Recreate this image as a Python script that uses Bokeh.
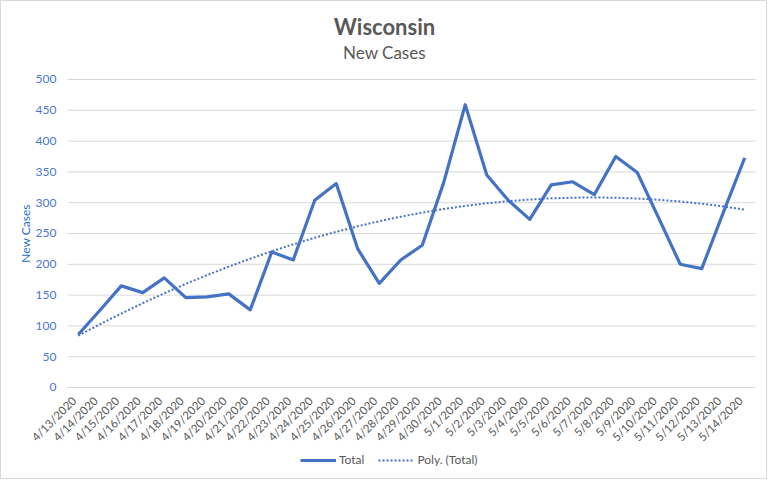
import numpy as np
from bokeh.plotting import figure
from bokeh.models import (ColumnDataSource, Legend, LegendItem, Label, Range1d,
                          FixedTicker)
from bokeh.embed import file_html
from bokeh.resources import INLINE
from math import pi

dates = ["4/13/2020", "4/14/2020", "4/15/2020", "4/16/2020", "4/17/2020", "4/18/2020",
         "4/19/2020", "4/20/2020", "4/21/2020", "4/22/2020", "4/23/2020", "4/24/2020",
         "4/25/2020", "4/26/2020", "4/27/2020", "4/28/2020", "4/29/2020", "4/30/2020",
         "5/1/2020", "5/2/2020", "5/3/2020", "5/4/2020", "5/5/2020", "5/6/2020",
         "5/7/2020", "5/8/2020", "5/9/2020", "5/10/2020", "5/11/2020", "5/12/2020",
         "5/13/2020", "5/14/2020"]
total = [86, 125, 165, 154, 178, 146, 147, 152, 126, 220, 207, 304,
         331, 225, 169, 207, 231, 333, 459, 345, 304, 273, 329, 334,
         313, 375, 349, 275, 200, 193, 284, 373]
y_ticks = [0, 50, 100, 150, 200, 250, 300, 350, 400, 450, 500]

n = len(dates)
idx = np.arange(n)
# Polynomial (order 2) trendline fitted to the data, as the spreadsheet does
coef = np.polyfit(idx, total, 2)
trend = list(np.polyval(coef, idx))

src = ColumnDataSource(dict(x=idx, d=dates, total=total, trend=trend))

FONT = "Lato"
BLUE = "#4472C4"
GRAY = "#595959"

# The frame spans the whole canvas; the plot area (-0.5..n-0.5, 0..500)
# sits where the reference draws it, titles and legend live around it.
p = figure(width=767, height=479,
           x_range=Range1d(-3.5698, 32.1047), y_range=Range1d(-150.974, 626.623),
           output_backend="svg", toolbar_location=None,
           min_border_left=0, min_border_right=0, min_border_top=0,
           min_border_bottom=0)
p.styles = {"border": "1px solid #d9d9d9"}
p.outline_line_color = None
p.background_fill_color = "white"
p.border_fill_color = "white"
p.xgrid.visible = False
p.ygrid.visible = False

# horizontal gridlines across the plot area
p.segment(x0=[-0.5] * len(y_ticks), x1=[n - 0.5] * len(y_ticks),
          y0=y_ticks, y1=y_ticks, line_color="#d9d9d9", line_width=1)

r_total = p.line("x", "total", source=src, line_color=BLUE, line_width=3.2,
                 line_join="round")
r_trend = p.line("x", "trend", source=src, line_color=BLUE, line_width=2,
                 line_dash="2 2")

# value axis
p.yaxis.fixed_location = -0.5
p.yaxis.bounds = (0, 500)
p.yaxis.ticker = FixedTicker(ticks=y_ticks)
p.yaxis.axis_line_color = None
p.yaxis.major_tick_line_color = None
p.yaxis.minor_tick_line_color = None
p.yaxis.major_tick_out = 0
p.yaxis.major_tick_in = 0
p.yaxis.major_label_text_color = "#4a78d0"
p.yaxis.major_label_text_font = FONT
p.yaxis.major_label_text_font_size = "12px"
p.yaxis.major_label_standoff = 11
p.yaxis.axis_label = "New Cases"
p.yaxis.axis_label_text_color = "#1f6fcf"
p.yaxis.axis_label_text_font = FONT
p.yaxis.axis_label_text_font_style = "normal"
p.yaxis.axis_label_text_font_size = "12px"
p.yaxis.axis_label_standoff = 0

# category axis: one label per date (label anchor nudged like the spreadsheet)
label_pos = [float(i) - 0.2 for i in idx]
p.xaxis.fixed_location = 0
p.xaxis.bounds = (-0.5, n - 0.5)
p.xaxis.ticker = FixedTicker(ticks=label_pos)
p.xaxis.major_label_overrides = {pos: d for pos, d in zip(label_pos, dates)}
p.xaxis.axis_line_color = "#d9d9d9"
p.xaxis.major_tick_line_color = None
p.xaxis.minor_tick_line_color = None
p.xaxis.major_tick_out = 0
p.xaxis.major_tick_in = 0
p.xaxis.major_label_orientation = pi / 4
p.xaxis.major_label_text_color = GRAY
p.xaxis.major_label_text_font = FONT
p.xaxis.major_label_text_font_size = "11.5px"
p.xaxis.major_label_standoff = 11

# titles
p.add_layout(Label(x=(n - 1) / 2, y=500, x_offset=-27, y_offset=53, text="Wisconsin",
                   text_font=FONT, text_font_style="bold", text_font_size="22px",
                   text_color=GRAY, text_align="center", text_baseline="middle"))
p.add_layout(Label(x=(n - 1) / 2, y=500, x_offset=-27, y_offset=27, text="New Cases",
                   text_font=FONT, text_font_style="normal", text_font_size="17px",
                   text_color=GRAY, text_align="center", text_baseline="middle"))

legend = Legend(items=[LegendItem(label="Total", renderers=[r_total]),
                       LegendItem(label="Poly. (Total)", renderers=[r_trend])],
                orientation="horizontal", location=(299, 13),
                glyph_width=36, glyph_height=12, label_height=12,
                label_standoff=3, spacing=14,
                padding=0, margin=0, border_line_color=None,
                background_fill_alpha=0,
                label_text_font=FONT, label_text_font_size="12px",
                label_text_color=GRAY)
p.add_layout(legend, "center")

open("out.html", "w").write(file_html(p, INLINE))
